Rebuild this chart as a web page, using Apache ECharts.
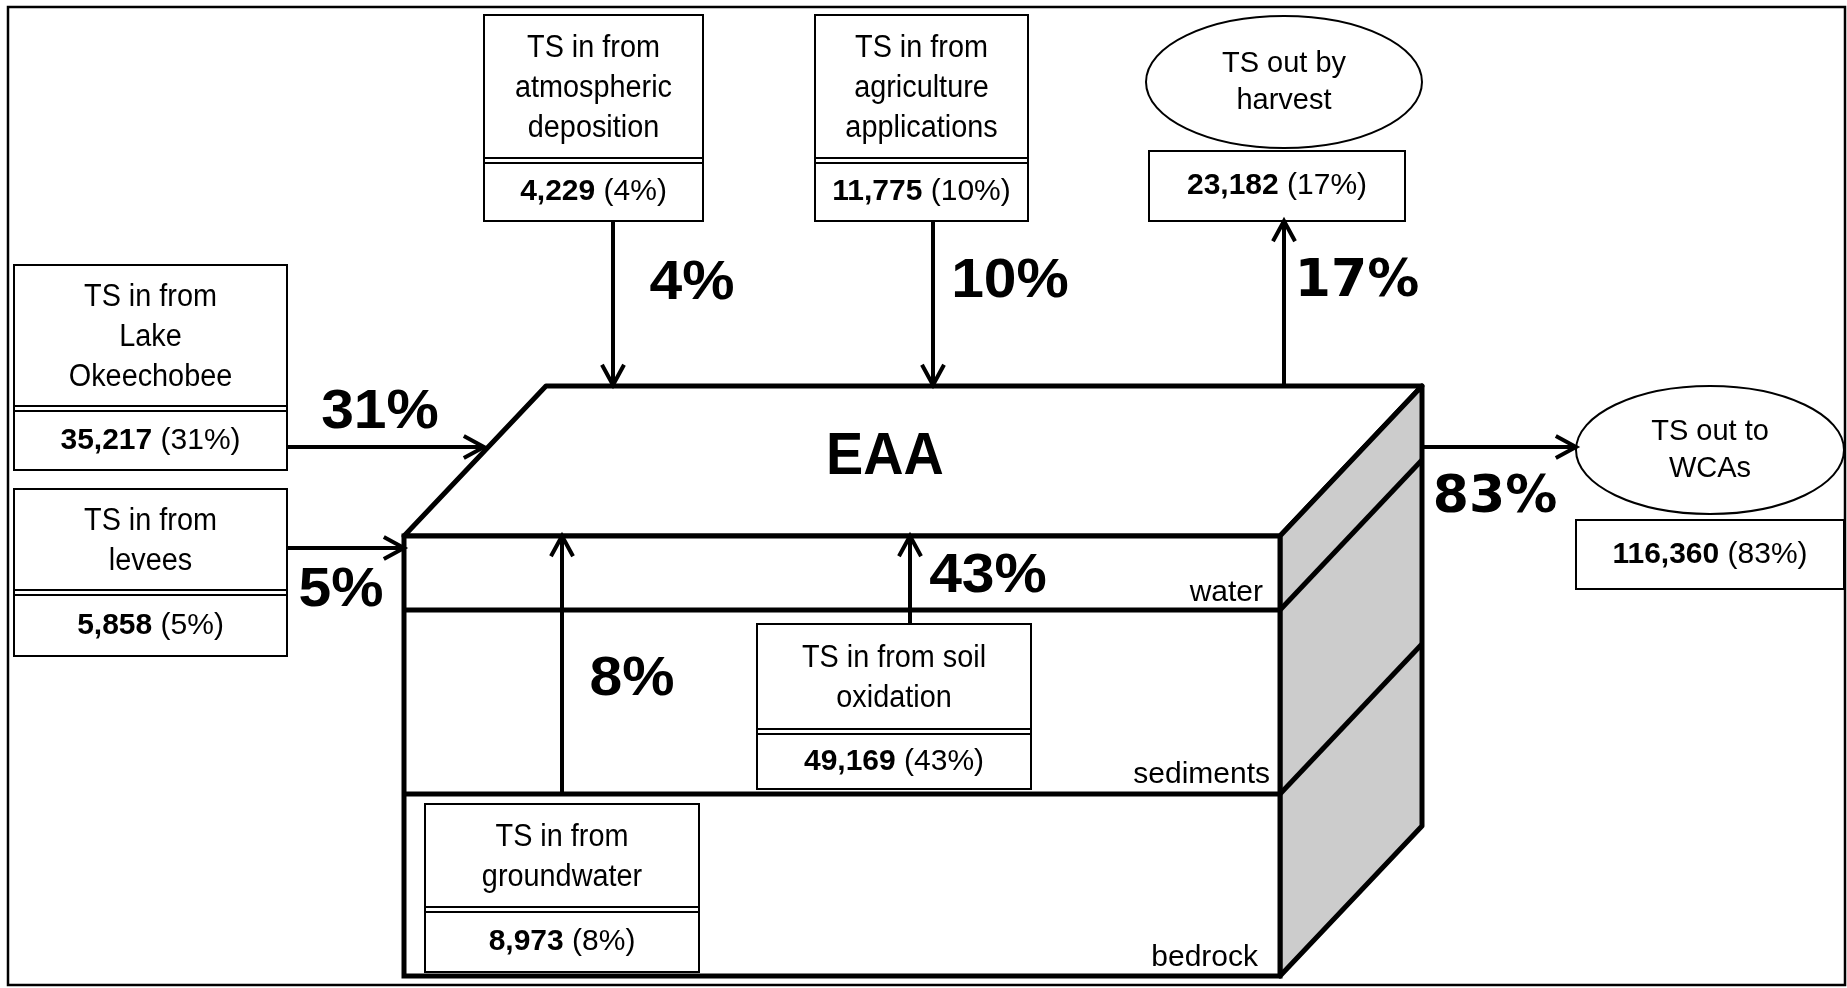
<!DOCTYPE html>
<html>
<head>
<meta charset="utf-8">
<script src="https://cdn.jsdelivr.net/npm/echarts@6/dist/echarts.min.js"></script>
<style>
  html, body { margin: 0; padding: 0; background: #fff; }
  #chart { width: 1847px; height: 988px; }
</style>
</head>
<body>
<div id="chart"></div>
<script>
// flows of TS into / out of the EAA
var flowNames = ['TS in from\natmospheric\ndeposition', 'TS in from\nagriculture\napplications', 'TS out by\nharvest',
  'TS in from\nLake\nOkeechobee', 'TS in from\nlevees', 'TS in from soil\noxidation', 'TS in from\ngroundwater', 'TS out to\nWCAs'];
var flowLoads = [4229, 11775, 23182, 35217, 5858, 49169, 8973, 116360];
var flowShares = [4, 10, 17, 31, 5, 43, 8, 83];
var layerNames = ['water', 'sediments', 'bedrock'];
var centerName = 'EAA';

// where each flow sits in the drawing
var layout = [
  { box: [484, 15, 219, 206, 158], arrow: [613, 221, 613, 385], label: [692, 284] },
  { box: [815, 15, 213, 206, 158], arrow: [933, 221, 933, 385], label: [1010, 282] },
  { ell: [1284, 82, 138, 66], val: [1149, 151, 256, 70], arrow: [1284, 385, 1284, 221], label: [1357, 282], wide: true },
  { box: [14, 265, 273, 205, 406], arrow: [287, 447, 484, 447], label: [380, 413] },
  { box: [14, 489, 273, 167, 590], arrow: [287, 548, 404, 548], label: [341, 591] },
  { box: [757, 624, 274, 165, 729], arrow: [910, 624, 910, 536], label: [988, 577] },
  { box: [425, 804, 274, 168, 907], arrow: [562, 794, 562, 536], label: [632, 680] },
  { ell: [1710, 450, 134, 64], val: [1576, 520, 268, 69], arrow: [1422, 447, 1576, 447], label: [1495, 498], wide: true }
];

var FONT = 'Liberation Sans, Arial, sans-serif';
var els = [];

function rect(x, y, w, h, lw, fill) {
  els.push({ type: 'rect', shape: { x: x, y: y, width: w, height: h },
    style: { fill: fill || '#fff', stroke: '#000', lineWidth: lw } });
}
function line(x1, y1, x2, y2, lw) {
  els.push({ type: 'line', shape: { x1: x1, y1: y1, x2: x2, y2: y2 },
    style: { stroke: '#000', lineWidth: lw, lineCap: 'butt' } });
}
function poly(pts, fill, lw) {
  els.push({ type: 'polygon', shape: { points: pts },
    style: { fill: fill, stroke: '#000', lineWidth: lw, lineJoin: 'round' } });
}
function text(x, y, str, size, weight, family, align, lh, sx) {
  els.push({ type: 'text', x: x, y: y, z: 10, scaleX: sx || 1,
    style: { text: str, fill: '#000', fontSize: size, fontWeight: weight || 'normal',
      fontFamily: family || FONT, align: align || 'center', verticalAlign: 'middle', lineHeight: lh || size } });
}
function valueText(x, y, i) {
  els.push({ type: 'text', x: x, y: y, z: 10,
    style: { text: '{b|' + flowLoads[i].toLocaleString('en-US') + '} (' + flowShares[i] + '%)',
      fill: '#000', fontSize: 30, fontFamily: FONT, align: 'center', verticalAlign: 'middle',
      rich: { b: { fontSize: 30, fontWeight: 'bold', fontFamily: FONT } } } });
}
function arrow(a) {
  var x1 = a[0], y1 = a[1], x2 = a[2], y2 = a[3];
  var ang = Math.atan2(y2 - y1, x2 - x1), L = 23, s = 0.5;
  line(x1, y1, x2, y2, 4);
  els.push({ type: 'polyline', z: 5, shape: { points: [
      [x2 - L * Math.cos(ang - s), y2 - L * Math.sin(ang - s)], [x2, y2],
      [x2 - L * Math.cos(ang + s), y2 - L * Math.sin(ang + s)]] },
    style: { stroke: '#000', lineWidth: 4, fill: null } });
}

// outer frame
rect(8, 7, 1837, 978, 2.5, '#fff');

// the EAA block
var fx0 = 404, fx1 = 1280, fy0 = 536, fy1 = 976, dx = 142, dy = -150;
var layerY = [610, 794];
poly([[fx0, fy0], [fx0 + dx, fy0 + dy], [fx1 + dx, fy0 + dy], [fx1, fy0]], '#fff', 5);
poly([[fx1, fy0], [fx1 + dx, fy0 + dy], [fx1 + dx, fy1 + dy], [fx1, fy1]], '#cccccc', 5);
rect(fx0, fy0, fx1 - fx0, fy1 - fy0, 5, '#fff');
layerY.forEach(function (y) {
  line(fx0, y, fx1, y, 5);
  line(fx1, y, fx1 + dx, y + dy, 5);
});
text(885, 457, centerName, 60, 'bold', FONT, 'center', 60, 0.93);
text(1263, 593, layerNames[0], 30, 'normal', FONT, 'right');
text(1270, 775, layerNames[1], 30, 'normal', FONT, 'right');
text(1258, 958, layerNames[2], 30, 'normal', FONT, 'right');

// source / sink boxes
layout.forEach(function (p, i) {
  if (p.box) {
    var b = p.box;
    rect(b[0], b[1], b[2], b[3], 2, '#fff');
    line(b[0], b[4], b[0] + b[2], b[4], 2);
    line(b[0], b[4] + 5, b[0] + b[2], b[4] + 5, 2);
    text(b[0] + b[2] / 2, (b[1] + b[4]) / 2 + 2, flowNames[i], 31, 'normal', FONT, 'center', 40, 0.93);
    valueText(b[0] + b[2] / 2, (b[4] + 5 + b[1] + b[3]) / 2, i);
  } else {
    var e = p.ell, v = p.val;
    els.push({ type: 'ellipse', shape: { cx: e[0], cy: e[1], rx: e[2], ry: e[3] },
      style: { fill: '#fff', stroke: '#000', lineWidth: 2 } });
    text(e[0], e[1], flowNames[i], 29, 'normal', FONT, 'center', 37);
    rect(v[0], v[1], v[2], v[3], 2, '#fff');
    valueText(v[0] + v[2] / 2, v[1] + v[3] / 2, i);
  }
  arrow(p.arrow);
  if (p.wide) {
    text(p.label[0], p.label[1], flowShares[i] + '%', 52, 'bold', 'DejaVu Sans, sans-serif');
  } else {
    text(p.label[0], p.label[1], flowShares[i] + '%', 56, 'bold', FONT, 'center', 56, 1.05);
  }
});

var myChart = echarts.init(document.getElementById('chart'));
myChart.setOption({
  backgroundColor: '#fff',
  animation: false,
  graphic: { elements: els }
});
</script>
</body>
</html>
